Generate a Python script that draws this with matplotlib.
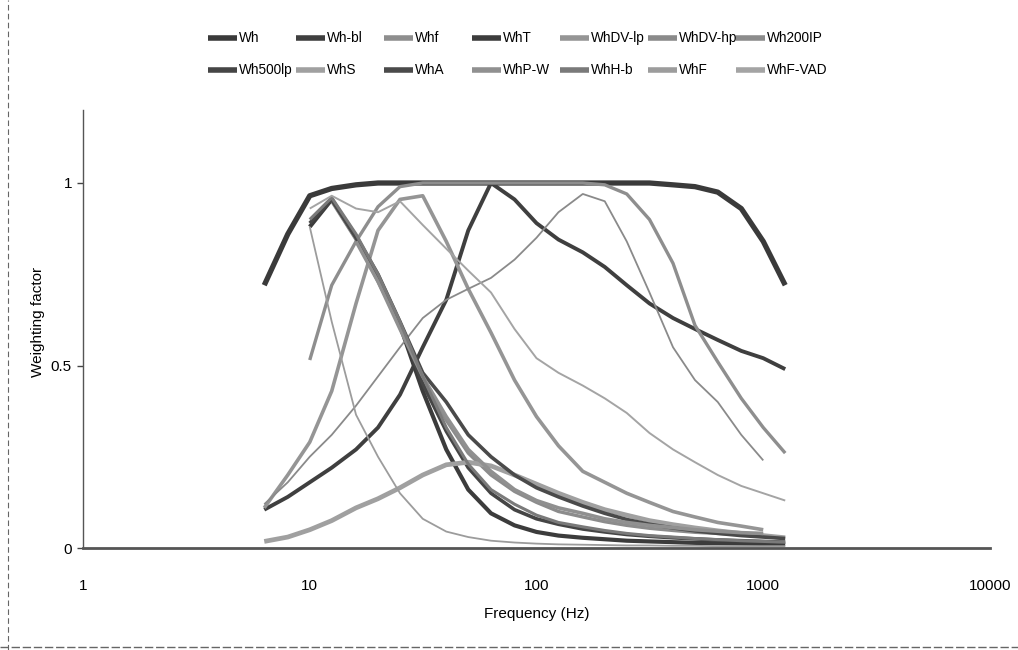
import numpy as np
import matplotlib
matplotlib.use("Agg")
import matplotlib.pyplot as plt
from matplotlib.lines import Line2D

plt.rcParams['font.family'] = ['Liberation Sans', 'DejaVu Sans']

nan = np.nan
freq = [6.3, 8, 10, 12.5, 16, 20, 25, 31.5, 40, 50, 63, 80, 100, 125, 160, 200, 250, 315, 400, 500, 630, 800, 1000, 1250]

Wh       = [0.72, 0.86, 0.965, 0.985, 0.995, 1.0, 1.0, 1.0, 1.0, 1.0, 1.0, 1.0, 1.0, 1.0, 1.0, 1.0, 1.0, 1.0, 0.995, 0.99, 0.975, 0.93, 0.84, 0.72]
Wh_bl    = [0.105, 0.14, 0.18, 0.22, 0.27, 0.33, 0.42, 0.55, 0.68, 0.87, 1.0, 0.955, 0.89, 0.845, 0.81, 0.77, 0.72, 0.67, 0.63, 0.6, 0.57, 0.54, 0.52, 0.49]
Whf      = [nan, nan, 0.515, 0.72, 0.84, 0.935, 0.99, 1.0, 1.0, 1.0, 1.0, 1.0, 1.0, 1.0, 1.0, 0.995, 0.97, 0.9, 0.78, 0.61, 0.51, 0.41, 0.33, 0.26]
WhT      = [nan, nan, 0.88, 0.955, 0.85, 0.74, 0.61, 0.43, 0.27, 0.16, 0.095, 0.062, 0.044, 0.034, 0.028, 0.024, 0.02, 0.018, 0.016, 0.014, 0.013, 0.012, 0.011, 0.01]
WhDV_lp  = [0.11, 0.2, 0.29, 0.43, 0.67, 0.87, 0.955, 0.965, 0.84, 0.71, 0.59, 0.46, 0.36, 0.28, 0.21, 0.18, 0.15, 0.125, 0.1, 0.085, 0.07, 0.06, 0.05, nan]
WhDV_hp  = [0.12, 0.18, 0.25, 0.31, 0.39, 0.47, 0.55, 0.63, 0.68, 0.71, 0.74, 0.79, 0.85, 0.92, 0.97, 0.95, 0.84, 0.7, 0.55, 0.46, 0.4, 0.31, 0.24, nan]
Wh200lP  = [nan, nan, nan, 0.95, 0.845, 0.73, 0.61, 0.46, 0.35, 0.26, 0.2, 0.155, 0.125, 0.1, 0.085, 0.072, 0.062, 0.054, 0.048, 0.043, 0.04, 0.037, 0.035, nan]
Wh500lp  = [nan, nan, 0.89, 0.955, 0.85, 0.74, 0.61, 0.45, 0.32, 0.22, 0.15, 0.105, 0.08, 0.065, 0.052, 0.044, 0.037, 0.032, 0.028, 0.025, 0.022, 0.02, 0.018, 0.016]
WhS      = [0.018, 0.03, 0.05, 0.075, 0.11, 0.135, 0.165, 0.2, 0.228, 0.235, 0.225, 0.2, 0.175, 0.15, 0.125, 0.105, 0.09, 0.075, 0.064, 0.055, 0.047, 0.04, 0.034, 0.028]
WhA      = [nan, nan, nan, 0.955, 0.855, 0.75, 0.62, 0.48, 0.4, 0.31, 0.25, 0.2, 0.165, 0.14, 0.115, 0.095, 0.078, 0.065, 0.055, 0.047, 0.04, 0.034, 0.03, 0.026]
WhP_W    = [nan, nan, nan, nan, 0.84, 0.73, 0.6, 0.47, 0.36, 0.27, 0.21, 0.16, 0.13, 0.11, 0.095, 0.08, 0.07, 0.062, 0.056, 0.05, 0.046, 0.042, 0.04, nan]
WhH_b    = [nan, nan, 0.9, 0.96, 0.86, 0.75, 0.62, 0.47, 0.33, 0.23, 0.16, 0.12, 0.09, 0.07, 0.058, 0.048, 0.04, 0.034, 0.03, 0.026, 0.023, 0.02, 0.018, 0.016]
WhF      = [nan, nan, 0.88, 0.62, 0.365, 0.25, 0.15, 0.08, 0.045, 0.03, 0.02, 0.015, 0.012, 0.01, 0.009, 0.008, 0.007, 0.007, 0.006, 0.006, 0.005, 0.005, 0.005, 0.005]
WhF_VAD  = [nan, nan, 0.93, 0.965, 0.93, 0.92, 0.95, 0.885, 0.82, 0.76, 0.7, 0.6, 0.52, 0.48, 0.445, 0.41, 0.37, 0.315, 0.27, 0.235, 0.2, 0.17, 0.15, 0.13]

names = ['Wh', 'Wh-bl', 'Whf', 'WhT', 'WhDV-lp', 'WhDV-hp', 'Wh200IP',
         'Wh500lp', 'WhS', 'WhA', 'WhP-W', 'WhH-b', 'WhF', 'WhF-VAD']
series = [Wh, Wh_bl, Whf, WhT, WhDV_lp, WhDV_hp, Wh200lP,
          Wh500lp, WhS, WhA, WhP_W, WhH_b, WhF, WhF_VAD]
# (color, linewidth, linestyle)
styles = [('#3a3a3a', 3.8, '-'), ('#3f3f3f', 2.8, '-'), ('#8e8e8e', 2.4, '-'),
          ('#3c3c3c', 3.0, '-'), ('#959595', 2.6, '-'), ('#8a8a8a', 1.3, '-'),
          ('#8c8c8c', 2.4, '-'), ('#454545', 2.6, '-'), ('#a0a0a0', 3.4, '-'),
          ('#4a4a4a', 2.6, '-'), ('#909090', 2.6, '-'), ('#7a7a7a', 2.2, '-'),
          ('#9c9c9c', 1.3, '-'), ('#a4a4a4', 1.4, '-')]

W, H = 1018, 650
fig = plt.figure(figsize=(W / 100, H / 100), dpi=100)
ax = fig.add_axes([83 / W, 1 - 548 / H, (990 - 83) / W, (548 - 110) / H])

f = np.array(freq)
for name, vals, (c, lw, ls) in zip(names, series, styles):
    ax.plot(f, np.array(vals, dtype=float), color=c, lw=lw, ls=ls,
            solid_capstyle='butt', label=name)

ax.set_xscale('log')
ax.set_xlim(1, 10000)
ax.set_ylim(0, 1.2)
ax.set_yticks([0, 0.5, 1])
ax.set_yticklabels(['0', '0.5', '1'])
ax.set_xticks([1, 10, 100, 1000, 10000])
ax.set_xticklabels(['1', '10', '100', '1000', '10000'])
ax.xaxis.set_minor_locator(matplotlib.ticker.NullLocator())
ax.tick_params(axis='x', length=0, pad=22, labelsize=11)
ax.tick_params(axis='y', length=4, width=1, pad=4, labelsize=11, color='#444')
for s in ['top', 'right']:
    ax.spines[s].set_visible(False)
ax.spines['left'].set_color('#555')
ax.spines['left'].set_linewidth(1.0)
ax.spines['bottom'].set_color('#555')
ax.spines['bottom'].set_linewidth(2.0)

ax.set_xlabel('Frequency (Hz)', fontsize=11)
ax.xaxis.set_label_coords((537 - 83) / 907, (548 - 614) / 438)
ax.xaxis.label.set_va('center')
ax.set_ylabel('Weighting factor', fontsize=11)
ax.yaxis.set_label_coords((38 - 83) / 907, (548 - 322) / 438)
ax.yaxis.label.set_va('center')

# legend, two rows of seven entries
for i, (name, (c, lw, ls)) in enumerate(zip(names, styles)):
    row, col = divmod(i, 7)
    x0 = 208 + 88 * col
    y = 38 + 32 * row
    fig.add_artist(Line2D([x0 / W, (x0 + 29) / W], [1 - y / H, 1 - y / H],
                          transform=fig.transFigure, color=c, lw=4.0,
                          solid_capstyle='butt'))
    fig.text((x0 + 31) / W, 1 - y / H, name, fontsize=9.8, va='center', ha='left')

# scanned page border
fig.add_artist(Line2D([8 / W, 8 / W], [0, 1], transform=fig.transFigure,
                      color='#666', lw=0.8, ls=(0, (5, 3))))
fig.add_artist(Line2D([0, 1], [1 - 647 / H, 1 - 647 / H], transform=fig.transFigure,
                      color='#666', lw=1.0, ls=(0, (6, 2))))

fig.savefig('out.png', dpi=100)
